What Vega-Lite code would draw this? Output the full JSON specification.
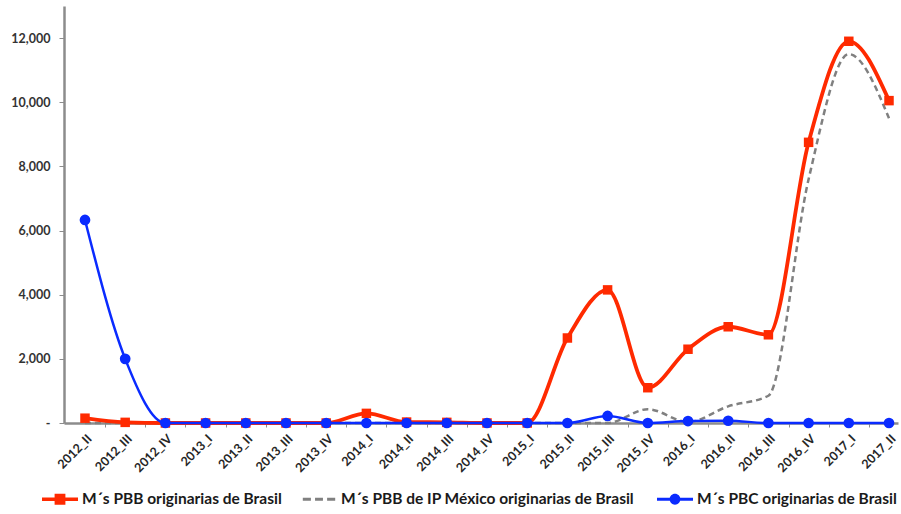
{
  "$schema": "https://vega.github.io/schema/vega-lite/v6.json",
  "width": 834,
  "height": 417,
  "autosize": {"type": "none"},
  "padding": {"left": 64, "top": 6, "right": 3, "bottom": 91},
  "background": "white",
  "config": {"view": {"stroke": null}},
  "datasets": {
    "d": [
      {"q": "2012_II", "s": "A", "v": 150}, {"q": "2012_III", "s": "A", "v": 20}, {"q": "2012_IV", "s": "A", "v": 0},
      {"q": "2013_I", "s": "A", "v": 0}, {"q": "2013_II", "s": "A", "v": 0}, {"q": "2013_III", "s": "A", "v": 0}, {"q": "2013_IV", "s": "A", "v": 0},
      {"q": "2014_I", "s": "A", "v": 300}, {"q": "2014_II", "s": "A", "v": 30}, {"q": "2014_III", "s": "A", "v": 20}, {"q": "2014_IV", "s": "A", "v": 0},
      {"q": "2015_I", "s": "A", "v": 0}, {"q": "2015_II", "s": "A", "v": 2650}, {"q": "2015_III", "s": "A", "v": 4150}, {"q": "2015_IV", "s": "A", "v": 1100},
      {"q": "2016_I", "s": "A", "v": 2300}, {"q": "2016_II", "s": "A", "v": 3000}, {"q": "2016_III", "s": "A", "v": 2750}, {"q": "2016_IV", "s": "A", "v": 8750},
      {"q": "2017_I", "s": "A", "v": 11900}, {"q": "2017_II", "s": "A", "v": 10050},

      {"q": "2012_II", "s": "B", "v": 0}, {"q": "2012_III", "s": "B", "v": 0}, {"q": "2012_IV", "s": "B", "v": 0},
      {"q": "2013_I", "s": "B", "v": 0}, {"q": "2013_II", "s": "B", "v": 0}, {"q": "2013_III", "s": "B", "v": 0}, {"q": "2013_IV", "s": "B", "v": 0},
      {"q": "2014_I", "s": "B", "v": 0}, {"q": "2014_II", "s": "B", "v": 0}, {"q": "2014_III", "s": "B", "v": 0}, {"q": "2014_IV", "s": "B", "v": 0},
      {"q": "2015_I", "s": "B", "v": 0}, {"q": "2015_II", "s": "B", "v": 0}, {"q": "2015_III", "s": "B", "v": 0}, {"q": "2015_IV", "s": "B", "v": 430},
      {"q": "2016_I", "s": "B", "v": 30}, {"q": "2016_II", "s": "B", "v": 520}, {"q": "2016_III", "s": "B", "v": 850}, {"q": "2016_IV", "s": "B", "v": 7600},
      {"q": "2017_I", "s": "B", "v": 11500}, {"q": "2017_II", "s": "B", "v": 9500},

      {"q": "2012_II", "s": "C", "v": 6330}, {"q": "2012_III", "s": "C", "v": 2000}, {"q": "2012_IV", "s": "C", "v": 0},
      {"q": "2013_I", "s": "C", "v": 0}, {"q": "2013_II", "s": "C", "v": 0}, {"q": "2013_III", "s": "C", "v": 0}, {"q": "2013_IV", "s": "C", "v": 0},
      {"q": "2014_I", "s": "C", "v": 0}, {"q": "2014_II", "s": "C", "v": 0}, {"q": "2014_III", "s": "C", "v": 0}, {"q": "2014_IV", "s": "C", "v": 0},
      {"q": "2015_I", "s": "C", "v": 0}, {"q": "2015_II", "s": "C", "v": 0}, {"q": "2015_III", "s": "C", "v": 220}, {"q": "2015_IV", "s": "C", "v": 0},
      {"q": "2016_I", "s": "C", "v": 60}, {"q": "2016_II", "s": "C", "v": 70}, {"q": "2016_III", "s": "C", "v": 0}, {"q": "2016_IV", "s": "C", "v": 0},
      {"q": "2017_I", "s": "C", "v": 0}, {"q": "2017_II", "s": "C", "v": 0}
    ]
  },
  "data": {"name": "d"},
  "encoding": {
    "x": {
      "field": "q", "type": "ordinal", "sort": null,
      "scale": {"type": "point", "padding": 0.373, "align": 0.7},
      "axis": {
        "title": null, "labelAngle": -45, "labelFont": "Lato", "labelFontWeight": "bold", "labelFontSize": 12.5,
        "labelColor": "#262626", "domainColor": "#8c8c8c", "domainWidth": 2.5, "tickColor": "#8c8c8c",
        "tickSize": 4, "tickOffset": 20.1, "labelOffset": -20.1, "labelPadding": 5, "grid": false
      }
    },
    "y": {
      "field": "v", "type": "quantitative",
      "scale": {"domain": [0, 13000], "nice": false, "zero": true},
      "axis": {
        "title": null, "values": [0, 2000, 4000, 6000, 8000, 10000, 12000],
        "labelExpr": "datum.value === 0 ? '-' : format(datum.value, ',')",
        "labelFont": "Lato", "labelFontWeight": "bold", "labelFontSize": 12.5, "labelColor": "#333333",
        "domainColor": "#8c8c8c", "domainWidth": 2.5, "tickColor": "#8c8c8c", "tickSize": 5,
        "labelPadding": 9, "grid": false
      }
    },
    "color": {"field": "s", "type": "nominal", "scale": {"domain": ["A", "B", "C"], "range": ["#ff2a00", "#808080", "#0a2bff"]}}
  },
  "layer": [
    {
      "mark": {"type": "point", "filled": true, "opacity": 1, "size": 0},
      "encoding": {
        "color": {
          "field": "s", "type": "nominal",
          "scale": {"domain": ["A", "B", "C"], "range": ["#ff2a00", "#808080", "#0a2bff"]},
          "legend": {
            "title": null, "orient": "none", "legendX": -22, "legendY": 475, "direction": "horizontal",
            "columnPadding": 19, "labelOffset": 4, "symbolSize": 1296, "symbolStrokeWidth": 0,
            "labelFont": "Lato", "labelFontSize": 15.5, "labelFontWeight": "bold", "labelColor": "#1a1a1a", "labelLimit": 400,
            "labelExpr": "datum.value === 'A' ? 'M´s PBB originarias de Brasil' : datum.value === 'B' ? 'M´s PBB de IP México  originarias de Brasil' : 'M´s PBC originarias de Brasil'"
          }
        },
        "shape": {
          "field": "s", "type": "nominal",
          "scale": {"domain": ["A", "B", "C"], "range": [
            "M-1,-0.1H1V0.1H-1Z M-0.3,-0.3H0.3V0.3H-0.3Z",
            "M-0.9,-0.08H-0.45V0.08H-0.9Z M-0.22,-0.08H0.22V0.08H-0.22Z M0.45,-0.08H0.9V0.08H0.45Z",
            "M-1,-0.09H1V0.09H-1Z M0.3,0A0.3,0.3,0,1,1,-0.3,0A0.3,0.3,0,1,1,0.3,0Z"
          ]},
          "legend": {
            "title": null, "orient": "none", "legendX": -22, "legendY": 475, "direction": "horizontal",
            "columnPadding": 19, "labelOffset": 4, "symbolSize": 1296, "symbolStrokeWidth": 0,
            "labelFont": "Lato", "labelFontSize": 15.5, "labelFontWeight": "bold", "labelColor": "#1a1a1a", "labelLimit": 400,
            "labelExpr": "datum.value === 'A' ? 'M´s PBB originarias de Brasil' : datum.value === 'B' ? 'M´s PBB de IP México  originarias de Brasil' : 'M´s PBC originarias de Brasil'"
          }
        }
      }
    },
    {
      "transform": [{"filter": "datum.s === 'B'"}],
      "mark": {"type": "line", "interpolate": "monotone", "strokeWidth": 2.5, "strokeDash": [6, 4]}
    },
    {
      "transform": [{"filter": "datum.s === 'A'"}],
      "mark": {"type": "line", "interpolate": "monotone", "strokeWidth": 3.8}
    },
    {
      "transform": [{"filter": "datum.s === 'A'"}],
      "mark": {"type": "point", "shape": "square", "filled": true, "size": 90, "opacity": 1}
    },
    {
      "transform": [{"filter": "datum.s === 'C'"}],
      "mark": {"type": "line", "interpolate": "monotone", "strokeWidth": 2.5}
    },
    {
      "transform": [{"filter": "datum.s === 'C'"}],
      "mark": {"type": "point", "shape": "circle", "filled": true, "size": 115, "opacity": 1}
    }
  ]
}
